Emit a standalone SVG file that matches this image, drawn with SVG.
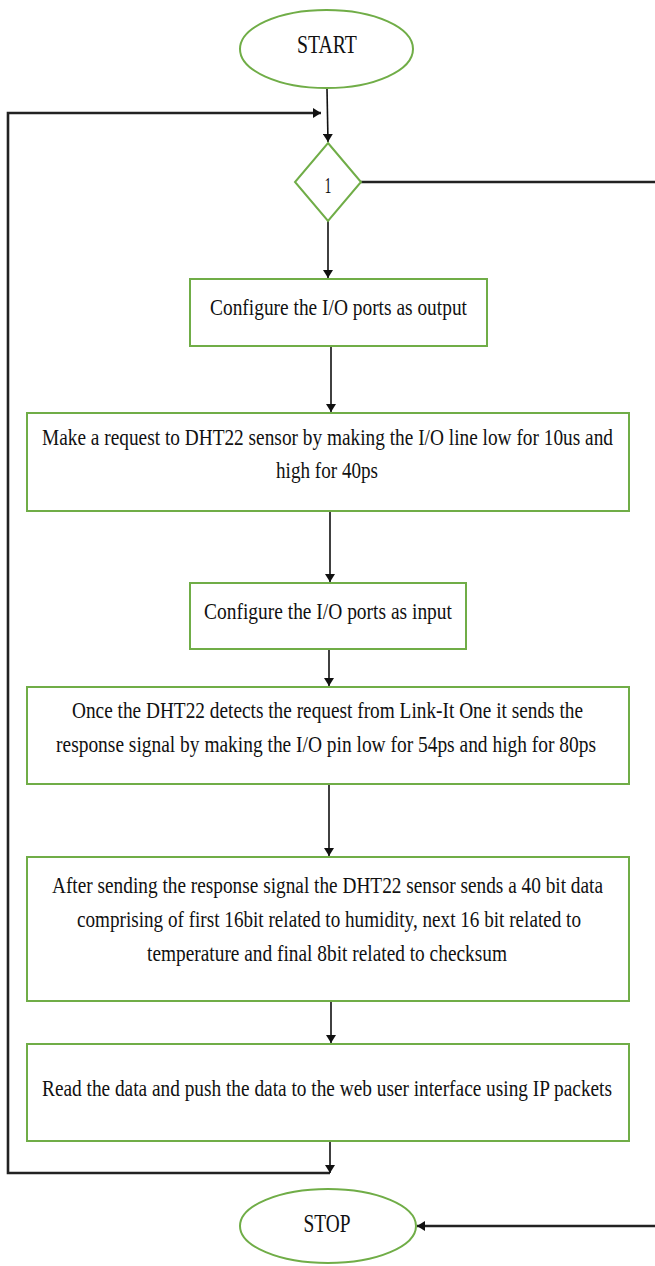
<svg xmlns="http://www.w3.org/2000/svg" width="655" height="1266" viewBox="0 0 655 1266">
  <defs>
    <style>
      .term { fill: #ffffff; stroke: #70ad47; stroke-width: 2; }
      .proc { fill: #ffffff; stroke: #70ad47; stroke-width: 2; }
      .lbl { font-family: "Liberation Serif", "Times New Roman", serif; font-size: 24px; fill: #111111; text-anchor: middle; }
      .big { font-size: 26px; }
      .flow { fill: none; stroke: #111111; stroke-width: 1.6; }
      .loop { fill: none; stroke: #222222; stroke-width: 2.6; }
    </style>
    <marker id="arrow" markerUnits="userSpaceOnUse" markerWidth="8" markerHeight="10" viewBox="0 0 8 10" refX="8" refY="5" orient="auto">
      <path d="M0,0 L8,5 L0,10 Z" fill="#111111"/>
    </marker>
  </defs>

  <rect width="655" height="1266" fill="#ffffff"/>

  <!-- connectors -->
  <g id="connectors">
    <line class="flow" x1="327" y1="89" x2="328" y2="142" marker-end="url(#arrow)"/>
    <path class="loop" d="M330,1173 H8 V113 H321" marker-end="url(#arrow)"/>
    <path class="loop" d="M361,182 H662 V1226 H417" marker-end="url(#arrow)"/>
    <line class="flow" x1="328" y1="221" x2="328" y2="278" marker-end="url(#arrow)"/>
    <line class="flow" x1="331" y1="346" x2="331" y2="412" marker-end="url(#arrow)"/>
    <line class="flow" x1="330" y1="511" x2="330" y2="582" marker-end="url(#arrow)"/>
    <line class="flow" x1="329" y1="649" x2="329" y2="686" marker-end="url(#arrow)"/>
    <line class="flow" x1="329" y1="784" x2="329" y2="856" marker-end="url(#arrow)"/>
    <line class="flow" x1="331" y1="1001" x2="331" y2="1043" marker-end="url(#arrow)"/>
    <line class="flow" x1="330" y1="1141" x2="330" y2="1173" marker-end="url(#arrow)"/>
  </g>

  <!-- labels use a condensed serif: scaled to 82% horizontally -->
  <g id="start">
    <ellipse class="term" cx="326.5" cy="49" rx="86.5" ry="39"/>
    <text class="lbl big" transform="scale(0.82 1)" x="398.8" y="53" textLength="73" lengthAdjust="spacingAndGlyphs">START</text>
  </g>

  <g id="decision">
    <polygon class="term" points="328,143 361,182 328,221 295,182"/>
    <text class="lbl" transform="scale(0.82 1)" x="400" y="193" textLength="8.5" lengthAdjust="spacingAndGlyphs">1</text>
  </g>

  <g id="config-output">
    <rect class="proc" x="190" y="279" width="297" height="67"/>
    <text class="lbl" transform="scale(0.82 1)" x="412.8" y="315" textLength="313.4" lengthAdjust="spacingAndGlyphs">Configure the I/O ports as output</text>
  </g>

  <g id="request">
    <rect class="proc" x="27" y="413" width="602" height="98"/>
    <text class="lbl" transform="scale(0.82 1)" x="399.4" y="445" textLength="696.3" lengthAdjust="spacingAndGlyphs">Make a request to DHT22 sensor by making the I/O line low for 10us and</text>
    <text class="lbl" transform="scale(0.82 1)" x="398.8" y="478" textLength="124.4" lengthAdjust="spacingAndGlyphs">high for 40ps</text>
  </g>

  <g id="config-input">
    <rect class="proc" x="190" y="583" width="276" height="66"/>
    <text class="lbl" transform="scale(0.82 1)" x="400" y="619" textLength="302.4" lengthAdjust="spacingAndGlyphs">Configure the I/O ports as input</text>
  </g>

  <g id="response">
    <rect class="proc" x="27" y="687" width="602" height="97"/>
    <text class="lbl" transform="scale(0.82 1)" x="399.4" y="718" textLength="623.2" lengthAdjust="spacingAndGlyphs">Once the DHT22 detects the request from Link-It One it sends the</text>
    <text class="lbl" transform="scale(0.82 1)" x="397.6" y="752" textLength="658.5" lengthAdjust="spacingAndGlyphs">response signal by making the I/O pin low for 54ps and high for 80ps</text>
  </g>

  <g id="data">
    <rect class="proc" x="27" y="857" width="602" height="144"/>
    <text class="lbl" transform="scale(0.82 1)" x="399.4" y="893" textLength="672" lengthAdjust="spacingAndGlyphs">After sending the response signal the DHT22 sensor sends a 40 bit data</text>
    <text class="lbl" transform="scale(0.82 1)" x="401.2" y="927" textLength="614.6" lengthAdjust="spacingAndGlyphs">comprising of first 16bit related to humidity, next 16 bit related to</text>
    <text class="lbl" transform="scale(0.82 1)" x="398.8" y="961" textLength="439" lengthAdjust="spacingAndGlyphs">temperature and final 8bit related to checksum</text>
  </g>

  <g id="push">
    <rect class="proc" x="27" y="1044" width="602" height="97"/>
    <text class="lbl" transform="scale(0.82 1)" x="398.8" y="1096" textLength="695.1" lengthAdjust="spacingAndGlyphs">Read the data and push the data to the web user interface using IP packets</text>
  </g>

  <g id="stop">
    <ellipse class="term" cx="328" cy="1226" rx="88" ry="37"/>
    <text class="lbl big" transform="scale(0.82 1)" x="398.8" y="1232" textLength="57.3" lengthAdjust="spacingAndGlyphs">STOP</text>
  </g>
</svg>
